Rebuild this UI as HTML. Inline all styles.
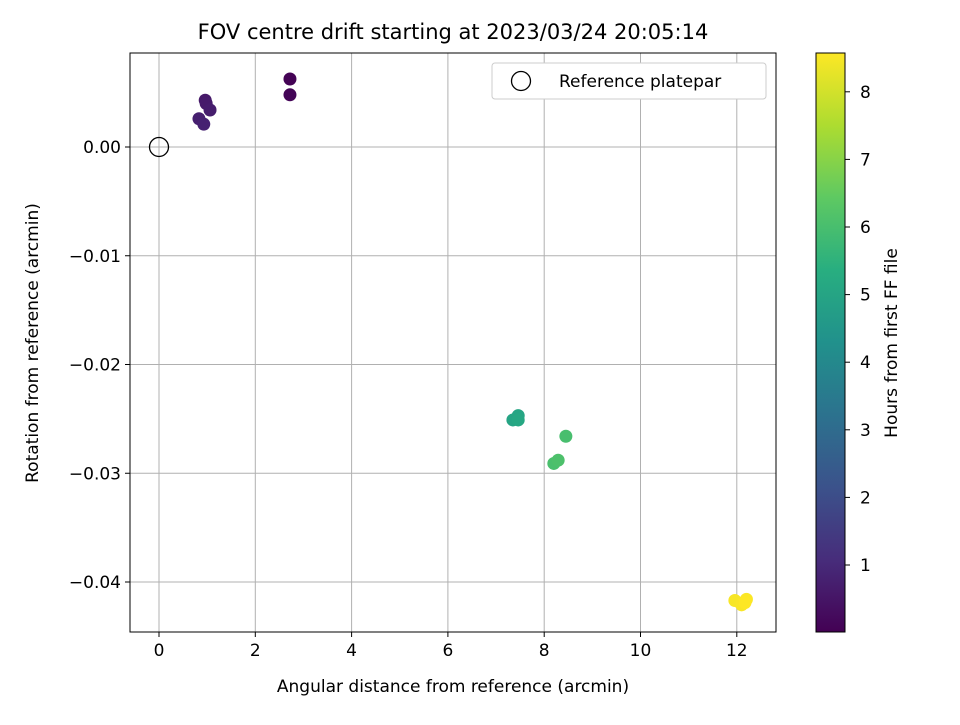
<!DOCTYPE html>
<html><head><meta charset="utf-8"><style>
body{margin:0;background:#fff;font-family:"Liberation Sans","DejaVu Sans",sans-serif}
svg text{font-family:"DejaVu Sans","Liberation Sans",sans-serif;fill:#000}
</style></head><body>
<svg id="c" width="960" height="720" viewBox="0 0 960 720">
<defs><linearGradient id="vir" x1="0" y1="1" x2="0" y2="0">
<stop offset="0" stop-color="#440154"/><stop offset="0.125" stop-color="#472d7b"/><stop offset="0.25" stop-color="#3b528b"/><stop offset="0.375" stop-color="#2c728e"/><stop offset="0.5" stop-color="#21918c"/><stop offset="0.625" stop-color="#28ae80"/><stop offset="0.75" stop-color="#5ec962"/><stop offset="0.875" stop-color="#addc30"/><stop offset="1" stop-color="#fde725"/></linearGradient></defs>
<g id="grid"></g>
<g id="pts"></g>
<rect x="130" y="53" width="646" height="579" fill="none" stroke="#000" stroke-width="1"/>
<g id="ticks"></g>
<text x="453" y="39" font-size="21" text-anchor="middle">FOV centre drift starting at 2023/03/24 20:05:14</text>
<text x="453" y="692" font-size="17" text-anchor="middle">Angular distance from reference (arcmin)</text>
<text transform="translate(38,343) rotate(-90)" font-size="17" text-anchor="middle">Rotation from reference (arcmin)</text>
<g>
<rect x="492" y="63" width="274" height="36" rx="3" fill="#fff" stroke="#ccc"/>
<circle cx="521" cy="81" r="9.5" fill="none" stroke="#000" stroke-width="1.3"/>
<text x="559" y="87" font-size="17">Reference platepar</text>
</g>
<rect x="816" y="53" width="29" height="579" fill="url(#vir)" stroke="#000" stroke-width="1"/>
<g id="cbt"></g>
<text transform="translate(897,343) rotate(-90)" font-size="17" text-anchor="middle">Hours from first FF file</text>
</svg>
<script>
const xs=[2.72,2.72,0.96,0.98,1.06,0.83,0.93,7.35,7.46,7.46,8.45,8.2,8.29,11.96,12.1,12.2,12.17];
const ys=[0.00625,0.0048,0.0043,0.0040,0.0034,0.0026,0.0021,-0.0251,-0.0247,-0.0251,-0.0266,-0.0291,-0.0288,-0.0417,-0.0421,-0.0416,-0.0419];
const hrs=[0.05,0.1,0.6,0.65,0.7,0.75,0.8,5.0,5.05,5.1,6.0,6.05,6.1,8.5,8.52,8.55,8.58];
const xTicks=[0,2,4,6,8,10,12];
const yTicks=[0,-0.01,-0.02,-0.03,-0.04];
const yLabels=["0.00","\u22120.01","\u22120.02","\u22120.03","\u22120.04"];
const cTicks=[1,2,3,4,5,6,7,8];
const X=v=>159+v*48.15, Y=v=>147-v*10875, C=h=>565-(h-1)*67.6;
const NS="http://www.w3.org/2000/svg";
function mk(t,a,p){const e=document.createElementNS(NS,t);for(const k in a)e.setAttribute(k,a[k]);p.appendChild(e);return e;}
const vir=[[68,1,84],[71,45,123],[59,82,139],[44,114,142],[33,145,140],[40,174,128],[94,201,98],[173,220,48],[253,231,37]];
function cm(h){let t=Math.max(0,Math.min(1,(h-0.01)/(8.58-0.01)))*8;const i=Math.min(7,Math.floor(t)),f=t-i;const a=vir[i],b=vir[i+1];return `rgb(${a.map((v,k)=>Math.round(v+(b[k]-v)*f)).join(',')})`;}
const g=document.getElementById('grid'),tk=document.getElementById('ticks'),pts=document.getElementById('pts'),cb=document.getElementById('cbt');
xTicks.forEach(v=>{
const l=mk('line',{x1:X(v),x2:X(v),y1:53,y2:632,stroke:'#b0b0b0','stroke-width':1},g);


mk('line',{x1:X(v),x2:X(v),y1:632,y2:637,stroke:'#000'},tk);
const t=mk('text',{x:X(v),y:656,'font-size':17,'text-anchor':'middle'},tk);t.textContent=v;


});
yTicks.forEach((v,i)=>{
const l=mk('line',{x1:130,x2:776,y1:Y(v),y2:Y(v),stroke:'#b0b0b0','stroke-width':1},g);


mk('line',{x1:125,x2:130,y1:Y(v),y2:Y(v),stroke:'#000'},tk);
const t=mk('text',{x:121,y:Y(v)+6,'font-size':17,'text-anchor':'end'},tk);t.textContent=yLabels[i];


});
cTicks.forEach(v=>{
mk('line',{x1:845,x2:850,y1:C(v),y2:C(v),stroke:'#000'},cb);
const t=mk('text',{x:860,y:C(v)+6,'font-size':17},cb);t.textContent=v;


});
xs.forEach((v,i)=>{
const c=mk('circle',{cx:X(v),cy:Y(ys[i]),r:6.5,fill:cm(hrs[i])},pts);


});
const r=mk('circle',{cx:X(0),cy:Y(0),r:9.5,fill:'none',stroke:'#000','stroke-width':1.3},pts);


</script>
</body></html>
